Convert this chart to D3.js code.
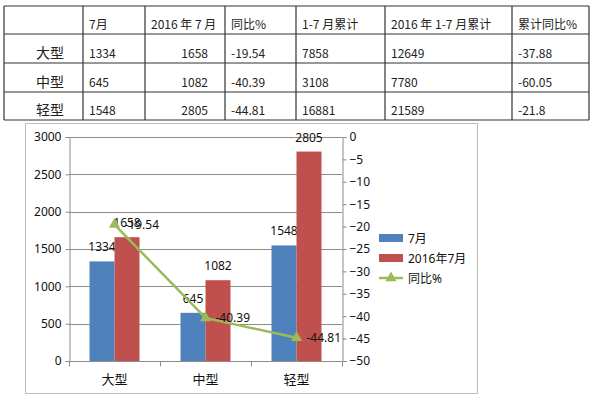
<!DOCTYPE html>
<html>
<head>
<meta charset="utf-8">
<script src="https://cdn.jsdelivr.net/npm/d3@7"></script>
<style>
  body { margin: 0; background: #fff; }
  svg { display: block; }
</style>
</head>
<body>
<div id="chart"></div>
<script>
// dados da tabela e do gráfico
const categories = ["大型", "中型", "轻型"];
const tableHeaders = ["", "7月", "2016 年 7 月", "同比%", "1-7 月累计", "2016 年 1-7 月累计", "累计同比%"];
const july = [1334, 645, 1548];
const july2016 = [1658, 1082, 2805];
const yoy = [-19.54, -40.39, -44.81];
const ytd = [7858, 3108, 16881];
const ytd2016 = [12649, 7780, 21589];
const ytdYoy = ["-37.88", "-60.05", "-21.8"];
const seriesNames = ["7月", "2016年7月", "同比%"];
const leftTicks = [0, 500, 1000, 1500, 2000, 2500, 3000];
const rightTicks = [0, -5, -10, -15, -20, -25, -30, -35, -40, -45, -50];

const svg = d3.select("#chart")
    .append("svg")
    .attr("width", 600)
    .attr("height", 397);

// ---- Tabela ----
const colX = [4, 83, 145, 225, 296, 385, 512, 589];
const rowY = [6, 34, 63, 92, 120];
const tableFont = "'Noto Sans CJK SC', sans-serif";

const table = svg.append("g");

table.selectAll("line.h")
    .data(rowY)
    .enter()
    .append("line")
    .attr("x1", colX[0]).attr("x2", colX[colX.length - 1])
    .attr("y1", d => d).attr("y2", d => d)
    .attr("stroke", "#333").attr("stroke-width", 1.2);

table.selectAll("line.v")
    .data(colX)
    .enter()
    .append("line")
    .attr("x1", d => d).attr("x2", d => d)
    .attr("y1", rowY[0]).attr("y2", rowY[rowY.length - 1])
    .attr("stroke", "#333").attr("stroke-width", 1.2);

// cabeçalho
table.selectAll("text.head")
    .data(tableHeaders)
    .enter()
    .append("text")
    .attr("x", (d, i) => colX[i] + 6)
    .attr("y", rowY[1] - 5)
    .attr("font-family", tableFont)
    .attr("font-size", "12px")
    .attr("fill", "#222")
    .text(d => d);

// linhas da tabela: [texto, alinhamento]
const rows = categories.map((c, i) => [
    [c, "end"],
    [july[i], "start"],
    [july2016[i], "end"],
    [yoy[i], "start"],
    [ytd[i], "start"],
    [ytd2016[i], "start"],
    [ytdYoy[i], "start"]
]);

rows.forEach((row, r) => {
    table.selectAll("text.r" + r)
        .data(row)
        .enter()
        .append("text")
        .attr("x", (d, i) => d[1] === "end" ? colX[i + 1] - (i === 0 ? 19 : 17) : colX[i] + 6)
        .attr("y", rowY[r + 2] - 5)
        .attr("text-anchor", d => d[1])
        .attr("font-family", tableFont)
        .attr("font-size", (d, i) => i === 0 ? "14px" : "12px")
        .attr("fill", "#222")
        .text(d => d[0]);
});

// ---- Gráfico ----
const chartFont = "'Noto Sans', 'Noto Sans CJK SC', sans-serif";

svg.append("rect")
    .attr("x", 25.5).attr("y", 123.5)
    .attr("width", 452).attr("height", 270)
    .attr("fill", "#fff")
    .attr("stroke", "#bdbdbd");

const plot = { left: 69, right: 342, top: 137, bottom: 361 };

const x = d3.scaleBand()
    .domain(categories)
    .range([plot.left, plot.right]);

const xs = d3.scaleBand()
    .domain(seriesNames.slice(0, 2))
    .range([0, x.bandwidth()])
    .paddingOuter(0.82);

const yLeft = d3.scaleLinear().domain([0, 3000]).range([plot.bottom, plot.top]);
const yRight = d3.scaleLinear().domain([-50, 0]).range([plot.bottom, plot.top]);

// linhas de grelha
svg.append("g")
    .selectAll("line")
    .data(leftTicks.slice(1))
    .enter()
    .append("line")
    .attr("x1", plot.left).attr("x2", plot.right)
    .attr("y1", d => Math.round(yLeft(d)) + 0.5)
    .attr("y2", d => Math.round(yLeft(d)) + 0.5)
    .attr("stroke", "#8c8c8c");

// barras
const barColors = ["#4f81bd", "#c0504d"];
const barSeries = [july, july2016];

barSeries.forEach((vals, s) => {
    svg.append("g")
        .selectAll("rect")
        .data(vals)
        .enter()
        .append("rect")
        .attr("x", (d, i) => x(categories[i]) + xs(seriesNames[s]))
        .attr("y", d => yLeft(d))
        .attr("width", xs.bandwidth())
        .attr("height", d => plot.bottom - yLeft(d))
        .attr("fill", barColors[s]);

    svg.append("g")
        .selectAll("text")
        .data(vals)
        .enter()
        .append("text")
        .attr("x", (d, i) => x(categories[i]) + xs(seriesNames[s]) + xs.bandwidth() / 2)
        .attr("y", d => yLeft(d) - 10)
        .attr("text-anchor", "middle")
        .attr("font-family", chartFont)
        .attr("font-size", "12px")
        .attr("fill", "#111")
        .text(d => d);
});

// eixos
const axisLeft = svg.append("g")
    .attr("transform", `translate(${plot.left + 0.5},0)`)
    .call(d3.axisLeft(yLeft).tickValues(leftTicks).tickSize(4).tickPadding(4).tickFormat(d3.format("d")));

const axisRight = svg.append("g")
    .attr("transform", `translate(${plot.right + 0.5},0)`)
    .call(d3.axisRight(yRight).tickValues(rightTicks).tickSize(4).tickPadding(3).tickFormat(d3.format("d")));

const axisBottom = svg.append("g")
    .attr("transform", `translate(0,${plot.bottom + 0.5})`)
    .call(d3.axisBottom(x).tickSize(0).tickPadding(13));

// ticks do eixo x nas fronteiras das categorias
axisBottom.selectAll("line.sep")
    .data([plot.left, plot.left + x.step(), plot.left + 2 * x.step(), plot.right])
    .enter()
    .append("line")
    .attr("class", "sep")
    .attr("x1", d => Math.round(d) + 0.5).attr("x2", d => Math.round(d) + 0.5)
    .attr("y1", 0).attr("y2", 5)
    .attr("stroke", "#8c8c8c");

[axisLeft, axisRight, axisBottom].forEach(a => {
    a.selectAll(".domain").attr("stroke", "#8c8c8c");
    a.selectAll(".tick line").attr("stroke", "#8c8c8c");
    a.selectAll("text")
        .attr("font-family", chartFont)
        .attr("font-size", "12px")
        .attr("fill", "#111");
});
axisBottom.selectAll("text").attr("font-size", "13px");
axisBottom.select(".domain").attr("d", `M${plot.left},0H${plot.right}`);

// linha do "同比%"
const lineColor = "#9bbb59";
const pts = yoy.map((d, i) => [x(categories[i]) + x.bandwidth() / 2, yRight(d)]);

svg.append("path")
    .attr("d", d3.line()(pts))
    .attr("fill", "none")
    .attr("stroke", lineColor)
    .attr("stroke-width", 2.5);

const tri = d3.symbol().type(d3.symbolTriangle).size(55);

svg.append("g")
    .selectAll("path")
    .data(pts)
    .enter()
    .append("path")
    .attr("d", tri)
    .attr("transform", d => `translate(${d[0]},${d[1]})`)
    .attr("fill", lineColor);

svg.append("g")
    .selectAll("text")
    .data(yoy)
    .enter()
    .append("text")
    .attr("x", (d, i) => pts[i][0] + 10)
    .attr("y", (d, i) => pts[i][1] + 4)
    .attr("font-family", chartFont)
    .attr("font-size", "12px")
    .attr("fill", "#111")
    .text(d => d);

// legenda
const legend = svg.append("g")
    .selectAll("g")
    .data(seriesNames)
    .enter()
    .append("g")
    .attr("transform", (d, i) => `translate(379,${238 + i * 20})`);

legend.filter((d, i) => i < 2)
    .append("rect")
    .attr("x", 0).attr("y", -4)
    .attr("width", 24).attr("height", 8)
    .attr("fill", (d, i) => barColors[i]);

const lineLegend = legend.filter((d, i) => i === 2);
lineLegend.append("line")
    .attr("x1", 0).attr("x2", 24)
    .attr("stroke", lineColor).attr("stroke-width", 2.5);
lineLegend.append("path")
    .attr("d", tri)
    .attr("transform", "translate(12,0)")
    .attr("fill", lineColor);

legend.append("text")
    .attr("x", 29)
    .attr("y", 4.5)
    .attr("font-family", chartFont)
    .attr("font-size", "12px")
    .attr("fill", "#111")
    .text(d => d);
</script>
</body>
</html>
